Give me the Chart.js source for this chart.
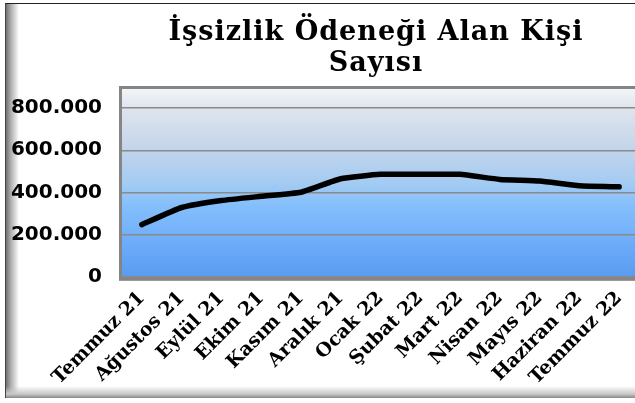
<!DOCTYPE html>
<html lang="tr">
<head>
  <meta charset="UTF-8">
  <title>İşsizlik Ödeneği Alan Kişi Sayısı</title>
  <script src="https://cdn.jsdelivr.net/npm/chart.js"></script>
  <style>
    html, body {
      margin: 0;
      padding: 0;
      width: 635px;
      height: 403px;
      overflow: hidden;
      background: #fff;
    }
    .frame {
      position: absolute;
      left: 5px;
      top: 3px;
      width: 640px;
      height: 394px;
      border-top: 1px solid #222;
      border-left: 1px solid #444;
      background:
        linear-gradient(to bottom, rgba(255,255,255,0) 0, rgba(255,255,255,0) 382px, #c8c8c8 390px, #888 394px),
        linear-gradient(to right, #707070 0, #b0b0b0 5px, #fff 13px);
    }
    .title {
      position: absolute;
      left: 126px;
      top: 15px;
      width: 500px;
      text-align: center;
      font-family: 'DejaVu Serif', serif;
      font-weight: bold;
      font-size: 27px;
      line-height: 31px;
      letter-spacing: 1px;
      color: #000;
    }
    .wrap {
      position: absolute;
      left: 0;
      top: 0;
      width: 645px;
      height: 403px;
    }
  </style>
</head>
<body>
  <div class="frame"></div>
  <div class="wrap"><canvas id="chart" width="645" height="403"></canvas></div>
  <div class="title">İşsizlik Ödeneği Alan Kişi<br>Sayısı</div>

  <script>
    // veriler
    const months = ['Temmuz 21', 'Ağustos 21', 'Eylül 21', 'Ekim 21', 'Kasım 21', 'Aralık 21',
      'Ocak 22', 'Şubat 22', 'Mart 22', 'Nisan 22', 'Mayıs 22', 'Haziran 22', 'Temmuz 22'];
    const people = [248000, 329000, 362000, 382000, 401000, 465000,
      486000, 486000, 486000, 462000, 454000, 432000, 427000];
    const yTicks = [0, 200000, 400000, 600000, 800000];

    // tr formatı: 800.000
    function formatNumber(n) {
      return n.toLocaleString('tr-TR');
    }

    // çizim alanı arka planı
    const plotBackground = {
      id: 'plotBackground',
      beforeDraw(chart) {
        const { ctx, chartArea: a } = chart;
        ctx.save();
        // gölge
        ctx.fillStyle = '#9a9a9a';
        ctx.fillRect(a.left - 3, a.bottom, a.width + 3, 4);
        const g = ctx.createLinearGradient(0, a.top, 0, a.bottom);
        g.addColorStop(0, '#f2f4f7');
        g.addColorStop(0.1, '#dfe5ee');
        g.addColorStop(0.3, '#c6d6ea');
        g.addColorStop(0.5, '#a4cbf2');
        g.addColorStop(0.62, '#84bffc');
        g.addColorStop(0.85, '#6aa9f8');
        g.addColorStop(1, '#5a9bf0');
        ctx.fillStyle = g;
        ctx.fillRect(a.left, a.top, a.width, a.height);
        ctx.strokeStyle = '#858585';
        ctx.lineWidth = 3;
        ctx.strokeRect(a.left - 1.5, a.top - 1.5, a.width + 3, a.height + 3);
        ctx.restore();
      }
    };

    const ctx = document.getElementById('chart').getContext('2d');
    new Chart(ctx, {
      type: 'line',
      data: {
        labels: months,
        datasets: [{
          data: people,
          borderColor: '#000',
          borderWidth: 5.5,
          borderCapStyle: 'round',
          borderJoinStyle: 'round',
          tension: 0.15,
          pointRadius: 0,
          fill: false
        }]
      },
      options: {
        responsive: false,
        animation: false,
        layout: {
          padding: { left: 0, right: 6, top: 89, bottom: 0 }
        },
        plugins: {
          legend: { display: false },
          tooltip: { enabled: false },
          title: { display: false }
        },
        scales: {
          x: {
            offset: true,
            grid: { display: false },
            border: { display: false },
            ticks: {
              color: '#000',
              font: { family: 'DejaVu Serif', size: 19, weight: 'bold' },
              maxRotation: 45,
              minRotation: 45,
              padding: 2,
              autoSkip: false
            },
            afterFit(scale) { scale.height = 126; }
          },
          y: {
            min: 0,
            max: 890000,
            border: { display: false },
            afterBuildTicks(axis) {
              axis.ticks = yTicks.map(v => ({ value: v }));
            },
            grid: {
              color: '#8a8a8a',
              lineWidth: 1.5,
              drawTicks: false
            },
            ticks: {
              color: '#000',
              font: { family: 'DejaVu Sans', size: 20, weight: 'bold' },
              padding: 20,
              callback: v => formatNumber(v)
            },
            afterFit(scale) { scale.width = 122; }
          }
        }
      },
      plugins: [plotBackground]
    });
  </script>
</body>
</html>
